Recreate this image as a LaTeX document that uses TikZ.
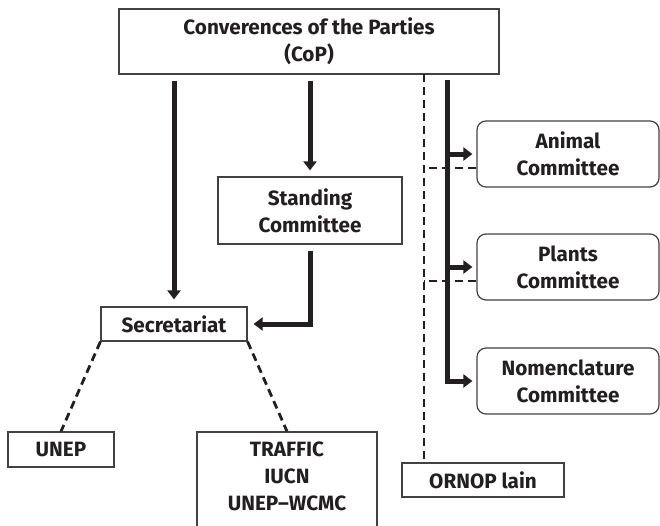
\documentclass[tikz,border=0pt]{standalone}
\usepackage{fontspec}
\setmainfont{Fira Sans}
\usetikzlibrary{arrows.meta}
\definecolor{ink}{HTML}{231F20}
\tikzset{
    plain-box/.style = {draw=ink!85, line width=1.2pt, fill=white, rectangle, align=center, text=ink, inner sep=0pt, font=\bfseries\fontsize{20.7}{27}\selectfont},
    round-box/.style = {plain-box, rounded corners=9pt},
    flow/.style = {draw=ink, line width=5pt, -{Triangle[length=9pt,width=13pt]}},
    link/.style = {draw=ink, line width=2.8pt, dash pattern=on 8pt off 5pt},
}

\begin{document}
\begin{tikzpicture}[x=1pt, y=-1pt]
\useasboundingbox (0,0) rectangle (660,525);
\node[plain-box, minimum width=380pt, minimum height=65pt] (cop) at (309,41.5) {Converences of the Parties\\(CoP)};
\node[plain-box, minimum width=184pt, minimum height=67pt] (standing) at (310,210.5) {Standing\\Committee};
\node[plain-box, minimum width=146pt, minimum height=34pt] (secr) at (174,324) {Secretariat};
\node[plain-box, minimum width=106pt, minimum height=35pt] (unep) at (61,449.5) {UNEP};
\node[plain-box, minimum width=180pt, minimum height=113pt, text depth=25pt] (traffic) at (287,488.5) {TRAFFIC\\IUCN\\UNEP--WCMC};
\node[plain-box, minimum width=162pt, minimum height=34pt] (ornop) at (483,480) {ORNOP lain};
\node[round-box, minimum width=182pt, minimum height=66pt] (animal) at (568,154) {Animal\\Committee};
\node[round-box, minimum width=182pt, minimum height=66pt] (plants) at (568,267) {Plants\\Committee};
\node[round-box, minimum width=182pt, minimum height=66pt] (nomen) at (568,381) {Nomenclature\\Committee};
\coordinate (trunk) at (447,74);
\coordinate (dash) at (424,74);

\draw[flow, shorten <=6pt, shorten >=7pt] (cop.south -| secr.north) -- (secr.north);
\draw[flow, shorten <=6pt, shorten >=6pt] (cop.south -| standing.north) -- (standing.north);
\draw[flow, shorten <=6pt, shorten >=6pt] (standing.south) |- (secr.east);
\draw[flow, shorten <=6pt, shorten >=4pt] (trunk) |- (nomen.west);
\foreach \c in {animal, plants}
    \draw[flow, shorten >=4pt] (trunk |- \c.west) -- (\c.west);

\draw[link] (dash) -- (ornop.north -| dash);
\foreach \c in {animal, plants} {
    \coordinate (\c-tap) at ([yshift=-14pt]\c.west);
    \draw[link] (\c-tap) -- (\c-tap -| dash);
}
\draw[link] (secr.south west) -- (unep.north);
\draw[link] (secr.south east) -- (traffic.north);
\end{tikzpicture}
\end{document}
